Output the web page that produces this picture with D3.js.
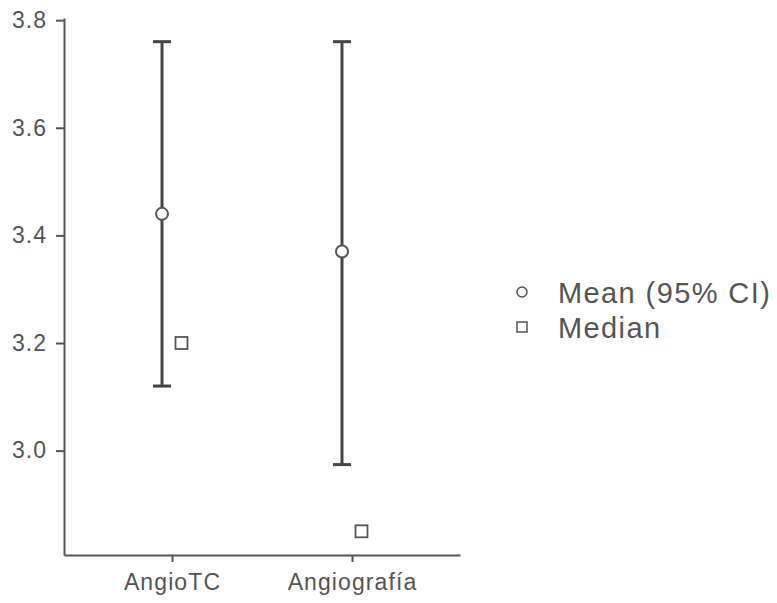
<!DOCTYPE html>
<html><head><meta charset="utf-8">
<script src="https://cdn.jsdelivr.net/npm/d3@7"></script>
<style>body{margin:0;background:#fff;} svg{display:block;}</style>
</head><body>
<svg id="chart" width="777" height="603"></svg>
<script>
const categories = ["AngioTC", "Angiografía"];
const means = [3.44, 3.37];
const ciLower = [3.12, 2.974];
const ciUpper = [3.76, 3.76];
const medians = [3.20, 2.85];
const yTicks = [3.0, 3.2, 3.4, 3.6, 3.8];
const legendLabels = ["Mean (95% CI)", "Median"];

const svg = d3.select("#chart");
const font = "'Liberation Sans', Arial, sans-serif";
const textColor = "#555";
const axisColor = "#555";
const barColor = "#444";

const x = d3.scalePoint().domain(categories).range([64, 460]).padding(0.6);
const y = d3.scaleLinear().domain([2.806, 3.804]).range([555, 18]);

// Y axis
const yAxis = svg.append("g").attr("transform", "translate(64,0)")
  .call(d3.axisLeft(y).tickValues(yTicks).tickFormat(d3.format(".1f")).tickSize(8).tickSizeOuter(0).tickPadding(9));
yAxis.select(".domain").attr("stroke", axisColor).attr("stroke-width", 2);
yAxis.selectAll(".tick line").attr("stroke", axisColor).attr("stroke-width", 2);
yAxis.selectAll("text").attr("fill", textColor).style("font-family", font).style("font-size", "23px").style("letter-spacing", "1px");

// X axis
const xAxis = svg.append("g").attr("transform", "translate(0,555)")
  .call(d3.axisBottom(x).tickSize(7).tickSizeOuter(0).tickPadding(12));
xAxis.select(".domain").attr("stroke", axisColor).attr("stroke-width", 2);
xAxis.selectAll(".tick line").attr("stroke", axisColor).attr("stroke-width", 2);
xAxis.selectAll("text").attr("fill", textColor).style("font-family", font).style("font-size", "23px").style("letter-spacing", "1.1px");

const off = 10;
const capW = 18;
const g = svg.append("g");
categories.forEach((c, i) => {
  const cx = x(c) - off;
  g.append("line").attr("x1", cx).attr("x2", cx).attr("y1", y(ciUpper[i])).attr("y2", y(ciLower[i]))
    .attr("stroke", barColor).attr("stroke-width", 3);
  [ciUpper[i], ciLower[i]].forEach(v => {
    g.append("line").attr("x1", cx - capW/2).attr("x2", cx + capW/2).attr("y1", y(v)).attr("y2", y(v))
      .attr("stroke", barColor).attr("stroke-width", 3);
  });
  g.append("circle").attr("cx", cx).attr("cy", y(means[i])).attr("r", 6)
    .attr("fill", "#fff").attr("stroke", "#555").attr("stroke-width", 2);
  const mx = x(c) + off - 0.5;
  g.append("rect").attr("x", mx - 6).attr("y", y(medians[i]) - 6).attr("width", 12).attr("height", 12)
    .attr("fill", "#fff").attr("stroke", "#555").attr("stroke-width", 1.8);
});

// Legend
const lg = svg.append("g");
lg.append("circle").attr("cx", 522).attr("cy", 292).attr("r", 5)
  .attr("fill", "#fff").attr("stroke", "#555").attr("stroke-width", 1.5);
lg.append("rect").attr("x", 517).attr("y", 322).attr("width", 10).attr("height", 10)
  .attr("fill", "#fff").attr("stroke", "#555").attr("stroke-width", 1.5);
legendLabels.forEach((t, i) => {
  lg.append("text").attr("x", 558).attr("y", 303 + i * 35).text(t)
    .attr("fill", textColor).style("font-family", font).style("font-size", "29px").style("letter-spacing", "1.4px");
});
</script>
</body></html>
